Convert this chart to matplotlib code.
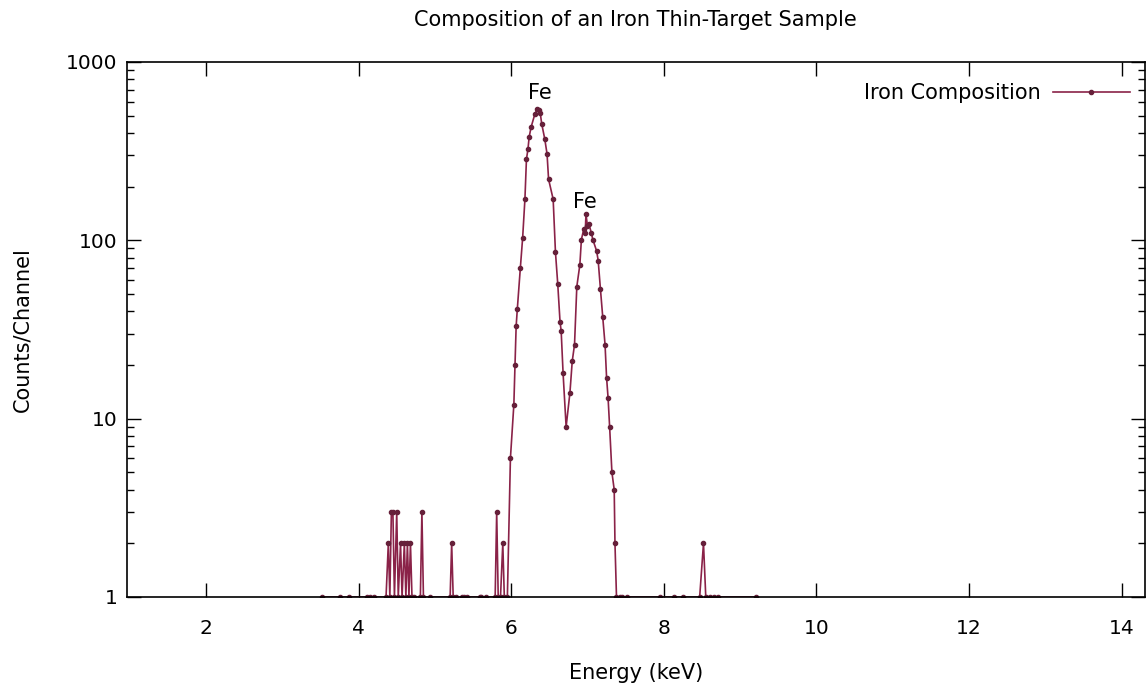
import numpy as np
import matplotlib
matplotlib.use('Agg')
import matplotlib.pyplot as plt
from matplotlib.ticker import LogLocator, FixedLocator, NullFormatter

# data (energy in keV, counts per channel)
energy = [3.52, 3.76, 3.87, 4.11, 4.15, 4.20, 4.36, 4.39, 4.41, 4.43, 4.45, 4.47,
          4.50, 4.52, 4.55, 4.57, 4.60, 4.62, 4.64, 4.66, 4.68, 4.70, 4.73, 4.81,
          4.83, 4.85, 4.93, 5.20, 5.22, 5.24, 5.28, 5.35, 5.38, 5.42, 5.59, 5.61,
          5.67, 5.79, 5.81, 5.83, 5.86, 5.89, 5.91, 5.95, 5.99, 6.035, 6.05, 6.065,
          6.08, 6.12, 6.15, 6.18, 6.20, 6.22, 6.235, 6.26, 6.31, 6.34, 6.36, 6.38,
          6.40, 6.44, 6.47, 6.49, 6.55, 6.58, 6.61, 6.64, 6.655, 6.68, 6.72, 6.77,
          6.80, 6.83, 6.86, 6.90, 6.92, 6.95, 6.97, 6.98, 7.00, 7.02, 7.05, 7.07,
          7.12, 7.14, 7.17, 7.20, 7.23, 7.25, 7.27, 7.29, 7.32, 7.35, 7.36, 7.38,
          7.42, 7.45, 7.52, 7.95, 8.14, 8.25, 8.47, 8.52, 8.55, 8.60, 8.66, 8.71,
          9.21]
counts = [1, 1, 1, 1, 1, 1, 1, 2, 1, 3, 3, 1,
          3, 1, 2, 1, 2, 1, 2, 1, 2, 1, 1, 1,
          3, 1, 1, 1, 2, 1, 1, 1, 1, 1, 1, 1,
          1, 1, 3, 1, 1, 2, 1, 1, 6, 12, 20, 33,
          41, 70, 103, 170, 285, 325, 378, 430, 510, 545, 540, 520,
          450, 370, 305, 220, 170, 86, 57, 35, 31, 18, 9, 14,
          21, 26, 55, 73, 101, 115, 110, 140, 120, 123, 110, 101,
          87, 77, 53, 37, 26, 17, 13, 9, 5, 4, 2, 1,
          1, 1, 1, 1, 1, 1, 1, 2, 1, 1, 1, 1,
          1]

peak_labels = ["Fe", "Fe"]
peak_pos = [(6.38, 670), (6.96, 165)]

line_col = '#8a2248'
mark_col = '#66203a'

plt.rcParams['font.family'] = ['DejaVu Sans']
fig = plt.figure(figsize=(11.48, 6.88), dpi=100)
ax = fig.add_axes([0.1106, 0.1323, 0.8864, 0.7776])

ax.plot(energy, counts, color=line_col, lw=1.2, marker='o', ms=3,
        mfc=mark_col, mec=mark_col, label='Iron Composition')

for lab, (x, y) in zip(peak_labels, peak_pos):
    ax.text(x, y, lab, ha='center', va='center', fontsize=15)

ax.set_yscale('log')
ax.set_ylim(1, 1000)
ax.set_xlim(0.965, 14.3)
ax.xaxis.set_major_locator(FixedLocator([2, 4, 6, 8, 10, 12, 14]))
ax.yaxis.set_major_locator(FixedLocator([1, 10, 100, 1000]))
ax.yaxis.set_major_formatter(matplotlib.ticker.FuncFormatter(lambda v, p: f"{int(v)}"))
ax.yaxis.set_minor_locator(LogLocator(base=10, subs=np.arange(2, 10)))
ax.yaxis.set_minor_formatter(NullFormatter())

ax.tick_params(which='both', direction='in', top=True, right=True, labelsize=14.5)
ax.tick_params(which='major', length=10, width=1)
ax.tick_params(which='minor', length=5, width=1)
ax.tick_params(axis='x', pad=16)
ax.tick_params(axis='y', pad=7)
for s in ax.spines.values():
    s.set_linewidth(1.2)

ax.set_xlabel('Energy (keV)', fontsize=15, labelpad=18)
ax.set_ylabel('Counts/Channel', fontsize=15, labelpad=24)
ax.set_title('Composition of an Iron Thin-Target Sample', fontsize=15, pad=26)

ax.legend(loc='upper right', bbox_to_anchor=(1.0, 0.988), frameon=False,
          markerfirst=False, fontsize=15, handlelength=3.7, handletextpad=0.6,
          borderaxespad=0.3)

plt.savefig('out.png', dpi=100)
